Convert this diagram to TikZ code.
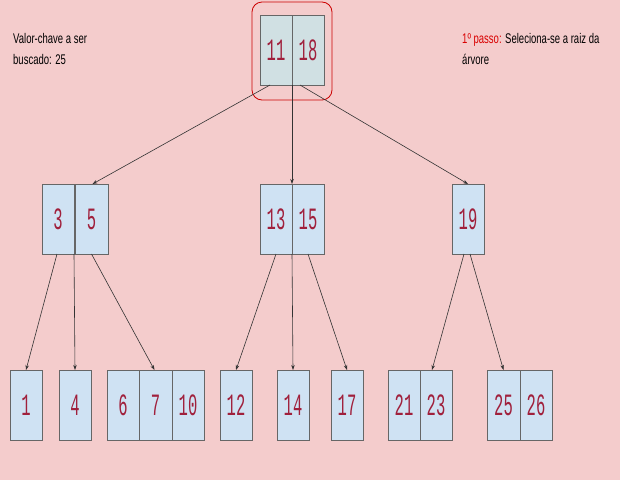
\documentclass[tikz,border=0pt]{standalone}
\usepackage{fontspec}
\setmainfont{Liberation Sans}
\newfontfamily\numfont{Liberation Mono}
\usetikzlibrary{arrows.meta,calc}
\definecolor{bg}{HTML}{F4CCCC}
\definecolor{cellfill}{HTML}{CFE2F3}
\definecolor{rootfill}{HTML}{D0E0E3}
\definecolor{numcol}{HTML}{A0203C}
\definecolor{edgecol}{HTML}{666666}
\tikzset{
  cell/.style={draw=edgecol, line width=0.8pt, fill=cellfill, minimum width=32pt, minimum height=70pt, inner sep=0pt, outer sep=0pt, anchor=north west,
    font=\numfont\fontsize{31}{31}\selectfont, text=numcol},
  rootcell/.style={cell, fill=rootfill},
  link/.style={draw=black!80, line width=0.6pt, -{Stealth[length=5pt,width=3.5pt]}},
  lbl/.style={font=\fontsize{14}{21}\selectfont, anchor=north west, align=left, inner sep=0pt}
}
\newcommand{\narrow}[1]{\scalebox{0.5}[1]{#1}}
\newcommand{\cond}[1]{\scalebox{0.68}[1]{#1}}
\begin{document}
\begin{tikzpicture}[x=1pt,y=-1pt]
\fill[bg] (0,0) rectangle (620,480);
\useasboundingbox (0,0) rectangle (620,480);
% root
\draw[red!80!black, line width=0.8pt, rounded corners=10pt] (252,2) rectangle (332,100);
\node[rootcell] (r1) at (260,15) {\narrow{11}};
\node[rootcell] (r2) at (292,15) {\narrow{18}};
% level 2
\node[cell] (a1) at (42,184) {\narrow{3}};
\node[cell, minimum width=33pt] (a2) at (75,184) {\narrow{5}};
\node[cell] (b1) at (260,184) {\narrow{13}};
\node[cell] (b2) at (292,184) {\narrow{15}};
\node[cell] (c1) at (452,184) {\narrow{19}};
% level 3
\node[cell] (l1) at (10,370) {\narrow{1}};
\node[cell] (l2) at (59,370) {\narrow{4}};
\node[cell] (l3) at (107,370) {\narrow{6}};
\node[cell, minimum width=33pt] (l4) at (139,370) {\narrow{7}};
\node[cell] (l5) at (172,370) {\narrow{10}};
\node[cell] (l6) at (220,370) {\narrow{12}};
\node[cell] (l7) at (277,370) {\narrow{14}};
\node[cell] (l8) at (331,370) {\narrow{17}};
\node[cell] (l9) at (388,370) {\narrow{21}};
\node[cell] (l10) at (420,370) {\narrow{23}};
\node[cell, minimum width=33pt] (l11) at (487,370) {\narrow{25}};
\node[cell] (l12) at (520,370) {\narrow{26}};
% edges root
\draw[link] ([xshift=-6pt]r1.south) -- ([xshift=1pt]a2.north);
\draw[link] (r1.south east) -- (b1.north east);
\draw[link] ([xshift=-8pt]r2.south) -- (c1.north);
% edges level 2
\draw[link] ([xshift=-1pt]a1.south) -- (l1.north);
\draw[link] (a1.south east) -- (l2.north);
\draw[link] (a2.south) -- ([xshift=-1pt]l4.north);
\draw[link] (b1.south) -- (l6.north);
\draw[link] (b1.south east) -- (l7.north);
\draw[link] (b2.south) -- (l8.north);
\draw[link] ([xshift=-4pt]c1.south) -- ([xshift=-4pt]l10.north);
\draw[link] ([xshift=2pt]c1.south) -- (l11.north);
% labels
\node[lbl] (t1) at (13,33) {\cond{Valor-chave a ser}\\\cond{buscado: 25}};
\node[lbl] (t2) at (462,33) {\cond{\textcolor{red!85!black}{1º passo:} Seleciona-se a raiz da}\\\cond{árvore}};
\end{tikzpicture}
\end{document}
